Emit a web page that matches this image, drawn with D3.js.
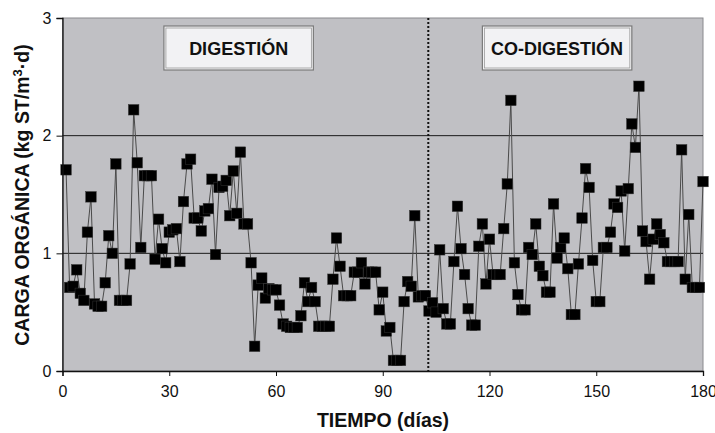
<!DOCTYPE html>
<html><head><meta charset="utf-8">
<script src="https://cdn.jsdelivr.net/npm/d3@7"></script>
<style>body{margin:0;background:#fff}svg{display:block;font-family:"Liberation Sans",Arial,sans-serif}</style>
</head><body><svg id="c" width="715" height="433"></svg>
<script>
const carga = [1.71,0.71,0.72,0.86,0.66,0.60,1.18,1.48,0.57,0.55,0.55,0.75,1.15,1.00,1.76,0.60,0.60,0.60,0.91,2.22,
1.77,1.05,1.66,1.66,1.66,0.95,1.29,1.04,0.92,1.18,1.20,1.21,0.93,1.44,1.76,1.80,1.30,1.30,1.19,1.36,
1.38,1.63,0.99,1.56,1.57,1.62,1.32,1.70,1.34,1.86,1.25,1.25,0.92,0.21,0.73,0.79,0.62,0.70,0.69,0.69,
0.56,0.40,0.38,0.37,0.37,0.37,0.47,0.75,0.59,0.71,0.59,0.38,0.38,0.38,0.38,0.78,1.13,0.89,0.64,0.64,
0.64,0.84,0.84,0.92,0.74,0.84,0.84,0.84,0.52,0.67,0.34,0.37,0.09,0.09,0.09,0.59,0.76,0.72,1.32,0.63,
0.64,0.64,0.51,0.58,0.50,1.03,0.53,0.40,0.40,0.93,1.40,1.04,0.82,0.53,0.39,0.39,1.06,1.25,0.74,1.12,
0.82,0.82,0.82,1.21,1.59,2.30,0.92,0.65,0.52,0.52,1.05,0.99,1.25,0.89,0.81,0.67,0.67,1.42,0.96,1.05,
1.13,0.87,0.48,0.48,0.91,1.30,1.72,1.56,0.94,0.59,0.59,1.05,1.05,1.18,1.42,1.39,1.53,1.02,1.55,2.10,
1.90,2.42,1.19,1.10,0.78,1.12,1.25,1.16,1.09,0.93,0.93,0.93,0.93,1.88,0.78,1.33,0.71,0.71,0.71,1.61];
const dias = carga.map((d,i)=>i+1);
const xTicks = [0,30,60,90,120,150,180];
const yTicks = [0,1,2,3];
const gridY = [1,2];
const cambioDia = 102.8;
const etiquetas = ["DIGESTIÓN","CO-DIGESTIÓN"];
const etiquetaDias = [[28.5,70.5],[118,160]];

const svg = d3.select("#c");
const L=62.5,R=703,T=18,B=371;
const x = d3.scaleLinear().domain([0,180]).range([L,R]);
const y = d3.scaleLinear().domain([0,3]).range([B,T]);
const tickFont = "'Liberation Sans Narrow','Arial Narrow','Liberation Sans',Arial,sans-serif";

svg.append("rect").attr("x",L).attr("y",T).attr("width",R-L).attr("height",B-T).attr("fill","#c0c0c4").attr("stroke","#8a8a8e").attr("stroke-width",1);

svg.selectAll(".grid").data(gridY).join("line").attr("x1",L).attr("x2",R)
  .attr("y1",d=>y(d)).attr("y2",d=>y(d)).attr("stroke","#1a1a1a").attr("stroke-width",1);

etiquetaDias.forEach((d,i)=>{
  const x0=x(d[0]), x1=x(d[1]), y0=26, y1=70;
  svg.append("rect").attr("x",x0).attr("y",y0).attr("width",x1-x0).attr("height",y1-y0)
    .attr("fill","#f2f2f4").attr("stroke","#7a7a7a").attr("stroke-width",1.2);
  svg.append("rect").attr("x",x0+2).attr("y",y0+2).attr("width",x1-x0-4).attr("height",y1-y0-4)
    .attr("fill","none").attr("stroke","#9a9a9a").attr("stroke-width",0.8);
  svg.append("text").attr("x",(x0+x1)/2).attr("y",(y0+y1)/2+6.5).attr("text-anchor","middle")
    .attr("font-size",18).attr("font-weight","bold").attr("fill","#111").text(etiquetas[i]);
});

svg.append("line").attr("x1",x(cambioDia)).attr("x2",x(cambioDia)).attr("y1",T).attr("y2",B)
  .attr("stroke","#111").attr("stroke-width",2).attr("stroke-dasharray","2,2");

const line = d3.line().x((d,i)=>x(dias[i])).y(d=>y(d));
svg.append("path").datum(carga).attr("d",line).attr("fill","none").attr("stroke","#4a4a4a").attr("stroke-width",1);

const s=10.5;
svg.selectAll(".m").data(carga).join("rect").attr("x",(d,i)=>x(dias[i])-s/2).attr("y",d=>y(d)-s/2)
  .attr("width",s).attr("height",s).attr("fill","#000").attr("stroke","#333").attr("stroke-width",0.5);

const xa = svg.append("g").attr("transform",`translate(0,${B})`)
  .call(d3.axisBottom(x).tickValues(xTicks).tickFormat(d3.format("d")).tickSize(5).tickPadding(10));
const ya = svg.append("g").attr("transform",`translate(${L},0)`)
  .call(d3.axisLeft(y).tickValues(yTicks).tickFormat(d3.format("d")).tickSize(6).tickPadding(5));
[xa,ya].forEach(a=>{a.selectAll("text").attr("font-size",16).attr("fill","#111").attr("font-family",tickFont);
  a.select(".domain").attr("stroke","#111").attr("stroke-width",1.3);
  a.selectAll(".tick line").attr("stroke","#111");});

svg.append("text").attr("x",383).attr("y",427).attr("text-anchor","middle").attr("font-size",19.5)
  .attr("font-weight","bold").attr("fill","#111").text("TIEMPO (días)");
const yt = svg.append("text").attr("transform","translate(29,195) rotate(-90)").attr("text-anchor","middle")
  .attr("font-size",19.5).attr("font-weight","bold").attr("fill","#111");
yt.append("tspan").text("CARGA ORGÁNICA (kg ST/m");
yt.append("tspan").attr("dy",-7).attr("font-size",13).text("3");
yt.append("tspan").attr("dy",7).text("·d)");
</script></body></html>
